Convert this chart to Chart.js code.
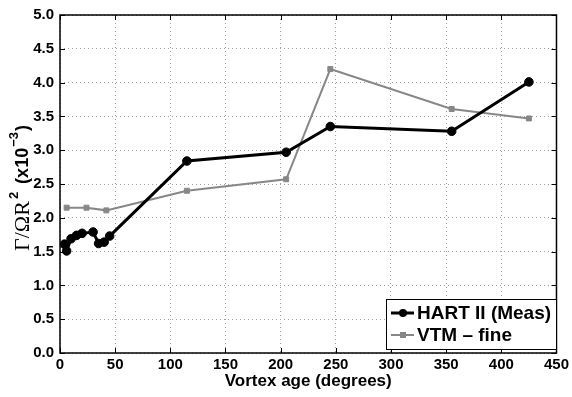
<!DOCTYPE html>
<html><head><meta charset="utf-8">
<script src="https://cdn.jsdelivr.net/npm/chart.js@4.4.0/dist/chart.umd.min.js"></script>
<style>html,body{margin:0;padding:0;background:#fff;}#wrap{width:572px;height:397px;position:relative}</style>
</head><body><div id="wrap"><canvas id="c" width="572" height="397"></canvas></div>
<script>
// ---- data ----
const hartAges = [4, 6, 10, 15, 20, 30, 35, 40, 45, 115, 205, 245, 355, 425];
const hartVals = [1.61, 1.51, 1.69, 1.74, 1.77, 1.79, 1.62, 1.64, 1.73, 2.84, 2.97, 3.35, 3.28, 4.01];
const vtmAges = [6, 24, 42, 115, 205, 245, 355, 425];
const vtmVals = [2.15, 2.15, 2.11, 2.40, 2.57, 4.20, 3.61, 3.47];
const xTickValues = [0, 50, 100, 150, 200, 250, 300, 350, 400, 450];
const yTickValues = [0.0, 0.5, 1.0, 1.5, 2.0, 2.5, 3.0, 3.5, 4.0, 4.5, 5.0];
const seriesLabels = ['HART II (Meas)', 'VTM \u2013 fine'];
const xTitle = 'Vortex age (degrees)';
const yTitleParts = ['\u0393/\u03A9R', '2', ' (x10', '\u22123', ')'];

const toXY = (xs, ys) => xs.map((x, i) => ({x: x, y: ys[i]}));
const SANS = "'Liberation Sans', Arial, Helvetica, sans-serif";

const boxPlugin = {
  id: 'matlabBox',
  afterDatasetsDraw(chart) {
    const {ctx, chartArea: a, scales} = chart;
    ctx.save();
    // inward ticks
    ctx.strokeStyle = '#000';
    ctx.lineWidth = 1;
    const tl = 5;
    xTickValues.forEach(v => {
      const px = Math.round(scales.x.getPixelForValue(v)) + 0.5;
      ctx.beginPath();
      ctx.moveTo(px, a.bottom); ctx.lineTo(px, a.bottom - tl);
      ctx.moveTo(px, a.top); ctx.lineTo(px, a.top + tl);
      ctx.stroke();
    });
    yTickValues.forEach(v => {
      const py = Math.round(scales.y.getPixelForValue(v)) + 0.5;
      ctx.beginPath();
      ctx.moveTo(a.left, py); ctx.lineTo(a.left + tl, py);
      ctx.moveTo(a.right, py); ctx.lineTo(a.right - tl, py);
      ctx.stroke();
    });
    // box
    ctx.lineWidth = 1.5;
    ctx.strokeRect(a.left, a.top, a.right - a.left, a.bottom - a.top);

    // legend
    const lx = 386, ly = 299, lw = 170, lh = 50;
    ctx.fillStyle = '#fff';
    ctx.fillRect(lx, ly, lw, lh);
    ctx.lineWidth = 1;
    ctx.strokeStyle = '#000';
    ctx.strokeRect(lx + 0.5, ly + 0.5, lw, lh);
    const rows = [ly + 14, ly + 36];
    chart.data.datasets.forEach((ds, i) => {
      const y = rows[i];
      ctx.strokeStyle = ds.borderColor;
      ctx.lineWidth = ds.borderWidth;
      ctx.beginPath(); ctx.moveTo(lx + 5, y); ctx.lineTo(lx + 28, y); ctx.stroke();
      ctx.fillStyle = ds.pointBackgroundColor;
      if (ds.pointStyle === 'rect') {
        ctx.fillRect(lx + 17 - 3, y - 3, 6, 6);
      } else {
        ctx.beginPath(); ctx.arc(lx + 17, y, 4, 0, Math.PI * 2); ctx.fill();
      }
      ctx.fillStyle = '#000';
      ctx.font = 'bold 19px ' + SANS;
      ctx.textBaseline = 'middle';
      ctx.textAlign = 'left';
      ctx.fillText(ds.label, lx + 31, y + 1);
    });

    // y title with superscripts
    const cy = (a.top + a.bottom) / 2 + 4;
    ctx.translate(22, cy);
    ctx.rotate(-Math.PI / 2);
    const fonts = ["22px 'Liberation Serif', 'Times New Roman', serif", 'bold 13px ' + SANS, 'bold 18px ' + SANS, 'bold 13px ' + SANS, 'bold 18px ' + SANS];
    const shifts = [0, -9, 0, -9, 0];
    const gaps = [2, 3, 1, 1, 0];
    let total = 0;
    const widths = yTitleParts.map((t, i) => { ctx.font = fonts[i]; const w = ctx.measureText(t).width + gaps[i]; total += w; return w; });
    let x = -total / 2;
    ctx.fillStyle = '#000';
    ctx.textBaseline = 'middle';
    ctx.textAlign = 'left';
    yTitleParts.forEach((t, i) => {
      ctx.font = fonts[i];
      ctx.fillText(t, x, shifts[i] + 1);
      x += widths[i];
    });
    ctx.restore();
  }
};

new Chart(document.getElementById('c'), {
  type: 'line',
  data: {
    datasets: [
      {
        label: seriesLabels[0],
        data: toXY(hartAges, hartVals),
        borderColor: '#000', backgroundColor: '#000',
        pointBackgroundColor: '#000', pointBorderColor: '#000',
        borderWidth: 3, pointRadius: 4.3, pointStyle: 'circle', pointBorderWidth: 1,
        tension: 0, fill: false
      },
      {
        label: seriesLabels[1],
        data: toXY(vtmAges, vtmVals),
        borderColor: '#878787', backgroundColor: '#878787',
        pointBackgroundColor: '#878787', pointBorderColor: '#878787',
        borderWidth: 2, pointRadius: 3.5, pointStyle: 'rect', pointBorderWidth: 1,
        tension: 0, fill: false
      }
    ]
  },
  options: {
    responsive: false,
    animation: false,
    devicePixelRatio: 1,
    layout: {padding: {top: 6, right: 13, left: 0, bottom: 0}},
    plugins: {legend: {display: false}, tooltip: {enabled: false}},
    scales: {
      x: {
        type: 'linear', min: 0, max: 450,
        afterFit(s) { s.height = 44; },
        afterBuildTicks(s) { s.ticks = xTickValues.map(v => ({value: v})); },
        ticks: {color: '#000', font: {family: SANS, size: 15, weight: 'bold'}, padding: 3, maxRotation: 0,
                callback: v => String(v)},
        grid: {color: '#a0a0a0', lineWidth: 1, drawTicks: false},
        border: {display: false, dash: [1, 3]},
        title: {display: true, text: xTitle, color: '#000', font: {family: SANS, size: 17, weight: 'bold'}, padding: {top: 0, bottom: 5}}
      },
      y: {
        type: 'linear', min: 0, max: 5,
        afterFit(s) { s.width = 60; },
        afterBuildTicks(s) { s.ticks = yTickValues.map(v => ({value: v})); },
        ticks: {color: '#000', font: {family: SANS, size: 15, weight: 'bold'}, padding: 6,
                callback: v => Number(v).toFixed(1)},
        grid: {color: '#a0a0a0', lineWidth: 1, drawTicks: false},
        border: {display: false, dash: [1, 3]},
        title: {display: false}
      }
    }
  },
  plugins: [boxPlugin]
});
</script>
</body></html>
